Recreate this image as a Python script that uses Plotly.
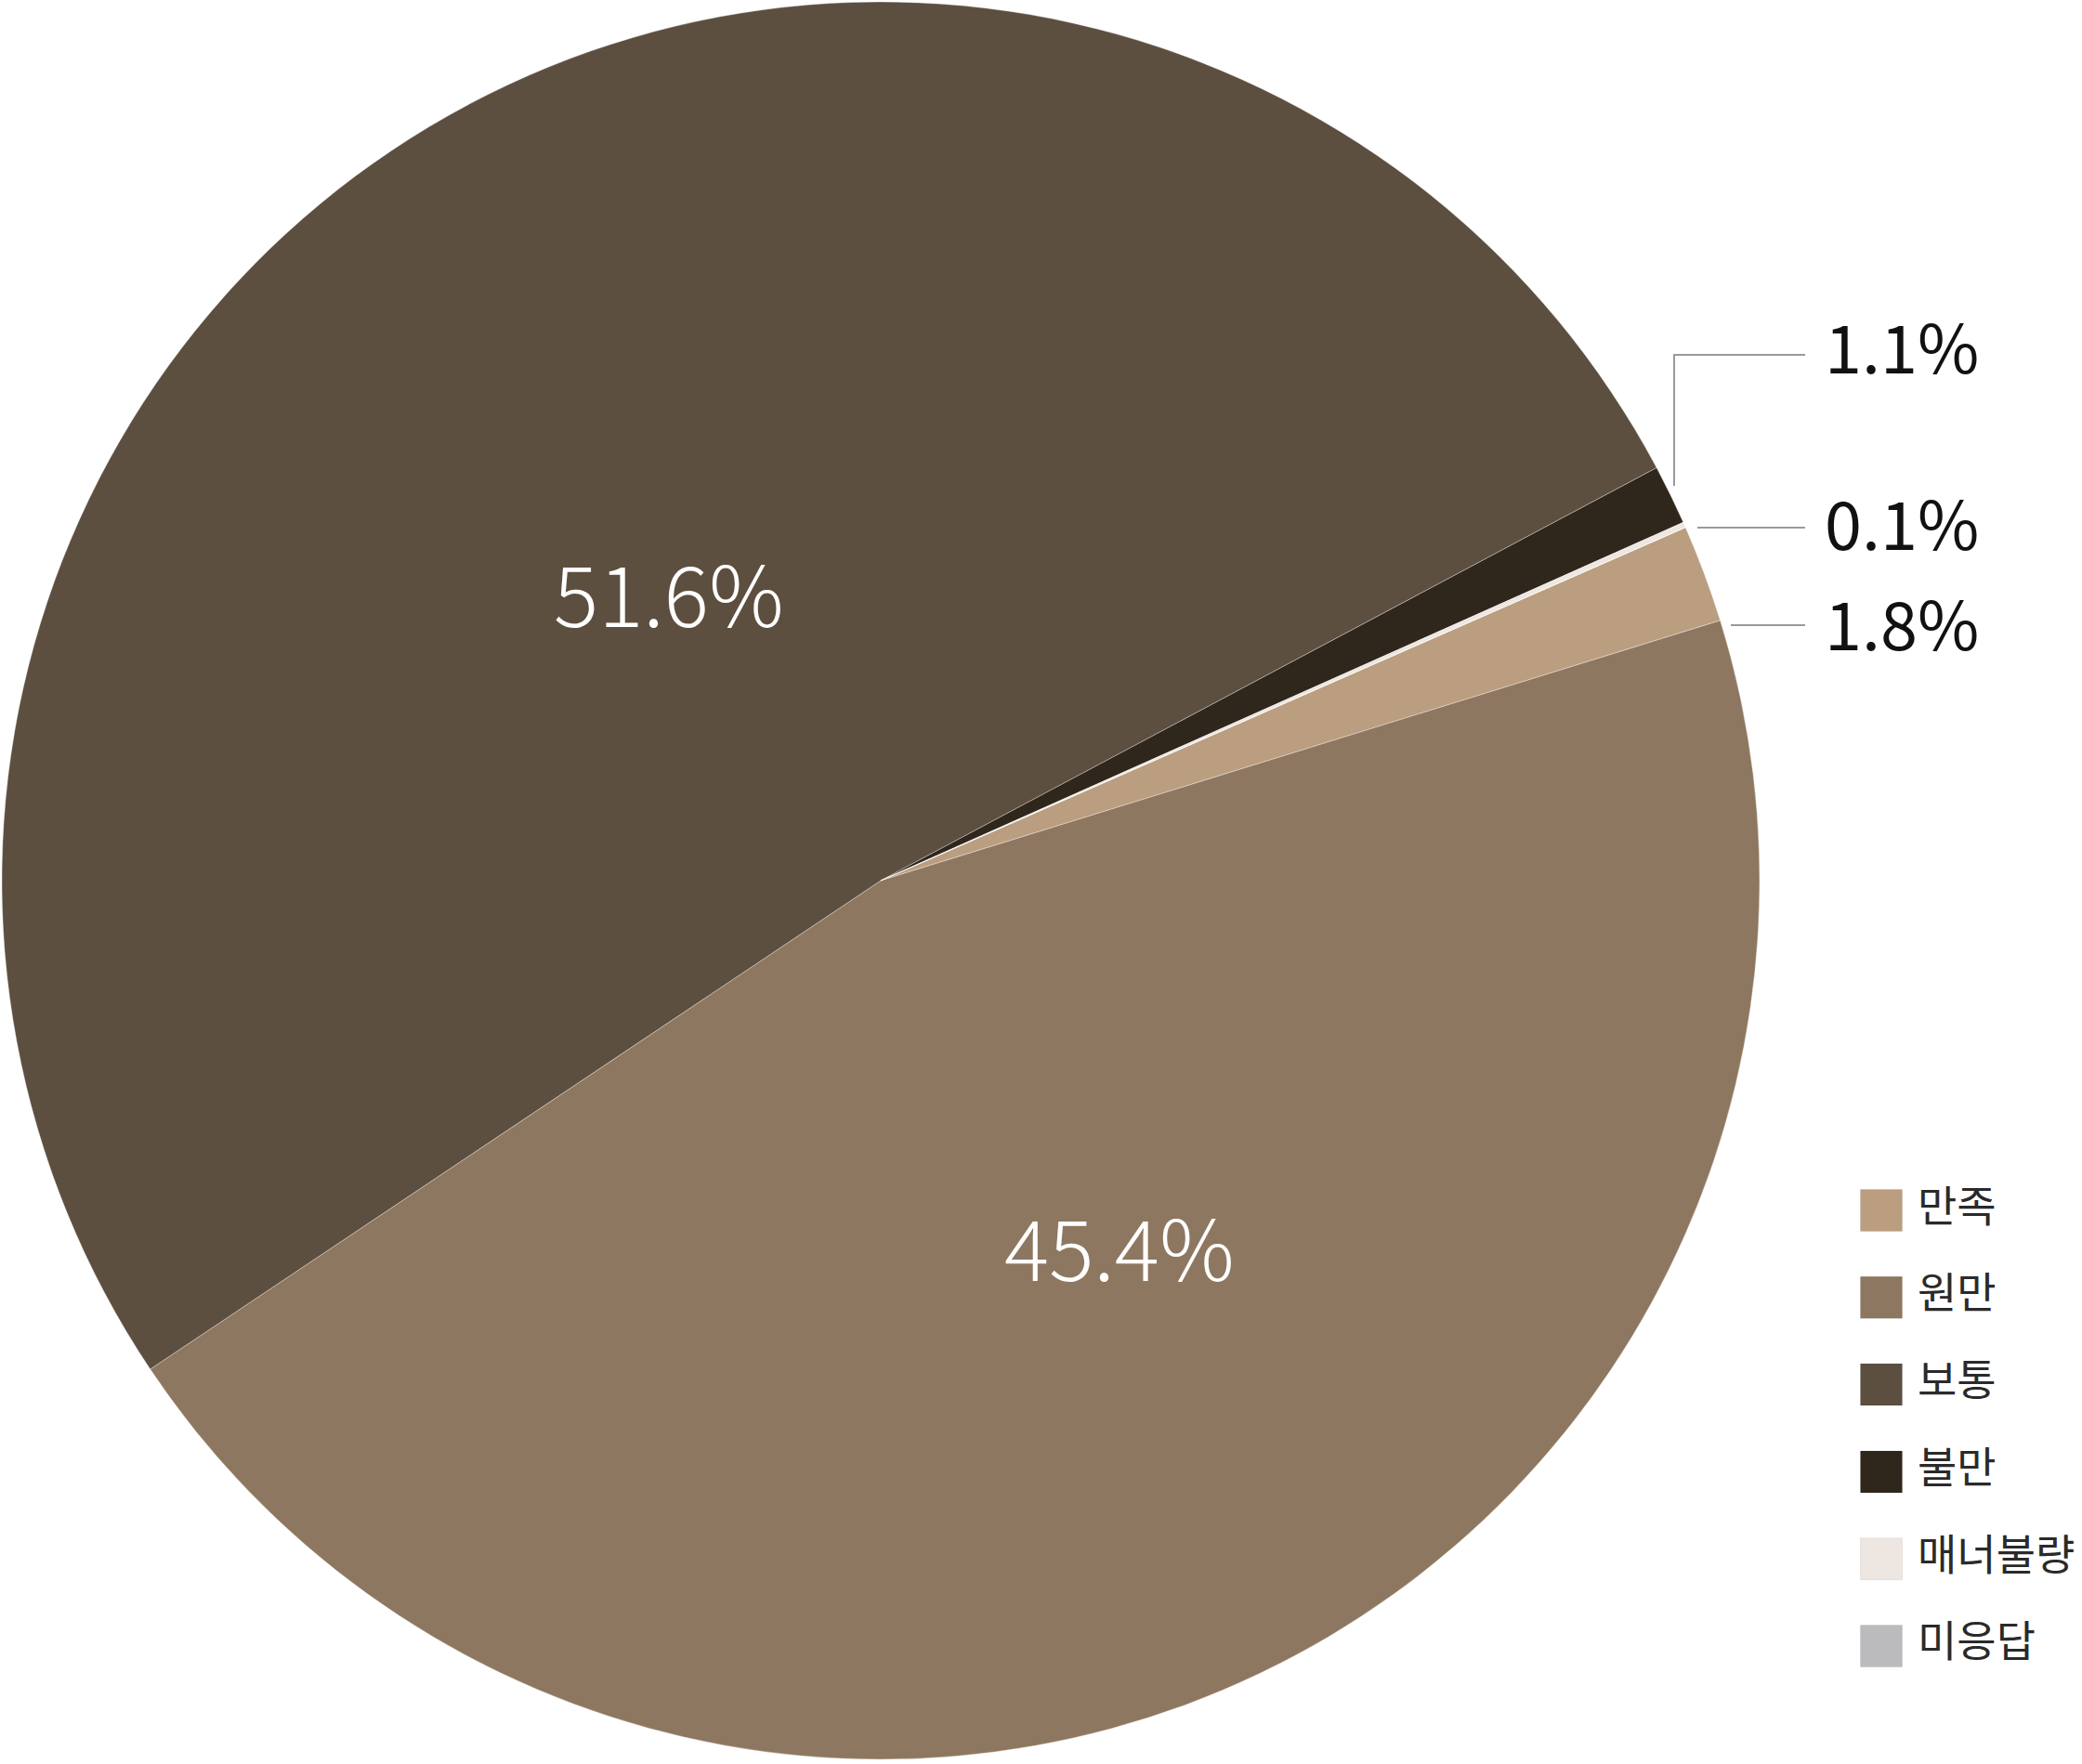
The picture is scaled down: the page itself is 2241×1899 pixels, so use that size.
import plotly.graph_objects as go

# ---- data ----
labels = ["만족", "원만", "보통", "불만", "매너불량", "미응답"]
values = [1.8, 45.4, 51.6, 1.1, 0.1, 0.0]
colors = ["#BB9E7F", "#8E7760", "#5D4F40", "#2F261C", "#EDE6E1", "#BBBBBD"]
inside_labels = ["51.6%", "45.4%"]
outside_labels = ["1.1%", "0.1%", "1.8%"]

W, H = 2241, 1899
FONT = "Noto Sans CJK KR"


def px(x):
    return x / W


def py(y):
    return 1 - y / H


fig = go.Figure()

fig.add_trace(go.Pie(
    labels=labels,
    values=values,
    marker=dict(colors=colors, line=dict(color="rgba(255,255,255,0.35)", width=1)),
    sort=False,
    direction="clockwise",
    rotation=66.3,
    textinfo="none",
    hoverinfo="label+percent",
    showlegend=False,
    domain=dict(x=[px(2), px(1894)], y=[py(1894), py(2)]),
))

# custom legend (large square swatches)
idx = list(range(len(labels)))
fig.add_trace(go.Scatter(
    x=[25] * len(labels), y=idx, mode="markers",
    marker=dict(symbol="square", size=45, color=colors,
                line=dict(color="rgba(0,0,0,0.06)", width=1)),
    showlegend=False, hoverinfo="skip", xaxis="x", yaxis="y",
))
fig.add_trace(go.Scatter(
    x=[64] * len(labels), y=idx, mode="text", text=labels,
    textposition="middle right",
    textfont=dict(family=FONT, size=46, color="#2a2a2a"),
    showlegend=False, hoverinfo="skip", cliponaxis=False, xaxis="x", yaxis="y",
))

annotations = [
    dict(x=px(720), y=py(636), text=inside_labels[0], showarrow=False,
         xref="paper", yref="paper", xanchor="center", yanchor="middle",
         font=dict(family=FONT, size=90, color="white", weight=300)),
    dict(x=px(1205), y=py(1340), text=inside_labels[1], showarrow=False,
         xref="paper", yref="paper", xanchor="center", yanchor="middle",
         font=dict(family=FONT, size=90, color="white", weight=300)),
]
for lab, yc in zip(outside_labels, [371, 560, 668]):
    annotations.append(dict(x=px(1962), y=py(yc), text=lab, showarrow=False,
                            xref="paper", yref="paper",
                            xanchor="left", yanchor="middle",
                            font=dict(family=FONT, size=72, color="#111111")))

line_style = dict(color="#9a9a9a", width=2)
shapes = [
    dict(type="path", xref="paper", yref="paper",
         path=f"M {px(1802)},{py(523)} L {px(1802)},{py(382)} L {px(1943)},{py(382)}",
         line=line_style),
    dict(type="line", xref="paper", yref="paper",
         x0=px(1827), y0=py(568), x1=px(1943), y1=py(568), line=line_style),
    dict(type="line", xref="paper", yref="paper",
         x0=px(1863), y0=py(673), x1=px(1943), y1=py(673), line=line_style),
]

n = len(labels)
step = 93.8
top = 1303 - step / 2
bottom = 1303 + step * (n - 1) + step / 2

fig.update_layout(
    width=W, height=H,
    margin=dict(l=0, r=0, t=0, b=0),
    paper_bgcolor="white", plot_bgcolor="rgba(0,0,0,0)",
    font=dict(family=FONT),
    xaxis=dict(domain=[px(2000), 1], range=[0, W - 2000], visible=False, fixedrange=True),
    yaxis=dict(domain=[py(bottom), py(top)], range=[n - 0.5, -0.5], visible=False, fixedrange=True),
    annotations=annotations,
    shapes=shapes,
    showlegend=False,
)

fig.write_html("out.html", config={"displayModeBar": False},
               post_script="document.body.style.margin='0';document.body.style.overflow='hidden';")
